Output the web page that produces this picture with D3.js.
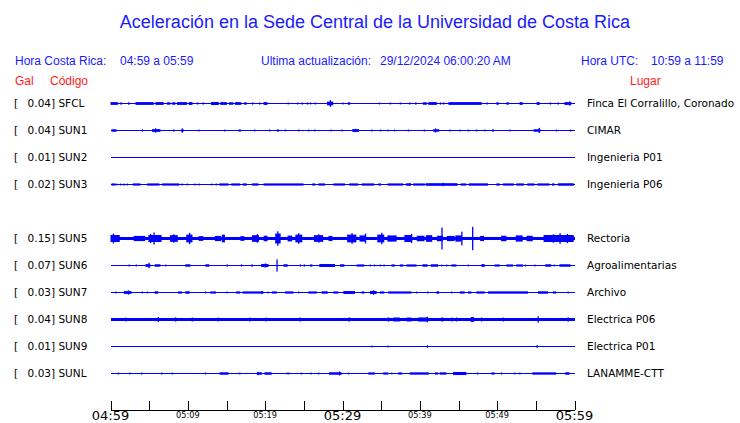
<!DOCTYPE html>
<html><head><meta charset="utf-8">
<script src="https://cdn.jsdelivr.net/npm/d3@7"></script>
<style>
html,body{margin:0;padding:0;background:#fff;}
svg{display:block;}
</style></head>
<body>
<svg id="chart" width="740" height="423"></svg>
<script>
// ---------------- DATA ----------------
const title = "Aceleración en la Sede Central de la Universidad de Costa Rica";
const localLabel = "Hora Costa Rica:", localRange = "04:59 a 05:59";
const updateLabel = "Ultima actualización:", updateValue = "29/12/2024 06:00:20 AM";
const utcLabel = "Hora UTC:", utcRange = "10:59 a 11:59";

const codes  = ["SFCL","SUN1","SUN2","SUN3","SUN5","SUN6","SUN7","SUN8","SUN9","SUNL"];
const slots  = [0,1,2,3,5,6,7,8,9,10];
const gals   = ["0.04","0.04","0.01","0.02","0.15","0.07","0.03","0.04","0.01","0.03"];
const places = ["Finca El Corralillo, Coronado","CIMAR","Ingenieria P01","Ingenieria P06","Rectoria",
                "Agroalimentarias","Archivo","Electrica P06","Electrica P01","LANAMME-CTT"];
// continuous background amplitude (gal) of each trace
const baseAmp = [0,0,0,0,0.02,0,0,0.016,0,0];

const tickMinutes = [0,10,20,30,40,50,60];
const tickLabels  = ["04:59","05:09","05:19","05:29","05:39","05:49","05:59"];
const minorTicks  = [0,5,10,15,20,25,30,35,40,45,50,55,60];

// bursts: [start minute, end minute, amplitude gal]
const evSFCL = [[0,0.95,0.012],[1.29,1.42,0.01],[2.28,2.45,0.01],[3.23,5.59,0.012],[5.81,6.88,0.012],[7.31,7.74,0.01],
 [7.96,8.39,0.01],[8.6,9.89,0.012],[10.1,10.6,0.012],[11.2,11.3,0.008],[11.9,12.0,0.008],[13.0,14.0,0.014],[14.2,15.05,0.012],
 [15.3,15.9,0.01],[16.1,16.9,0.012],[17.3,17.6,0.01],[18.3,18.4,0.008],[19.2,19.3,0.008],[19.8,20.3,0.012],[22.9,23.0,0.006],
 [24.1,24.2,0.006],[24.7,24.8,0.008],[25.4,25.5,0.008],[25.8,25.9,0.006],[26.4,26.5,0.006],[28.0,28.8,0.018],[28.35,28.5,0.038],
 [30.0,30.1,0.006],[30.7,31.0,0.01],[34.7,34.8,0.006],[36.1,36.2,0.006],[37.4,37.5,0.006],[38.6,38.7,0.008],[39.4,39.5,0.008],
 [40.4,40.9,0.01],[41.1,42.2,0.012],[42.6,42.7,0.008],[43.0,43.1,0.008],[43.7,48.0,0.012],[48.6,48.7,0.008],[49.9,50.2,0.01],
 [51.2,51.5,0.01],[52.9,53.3,0.012],[55.1,55.5,0.012],[56.8,56.9,0.008],[57.8,57.9,0.008],[58.7,59.6,0.012],[59.3,59.4,0.022]];
const evSUN1 = [[0.13,0.77,0.01],[4.05,4.15,0.008],[5.38,6.45,0.012],[5.75,5.85,0.022],[8.1,8.2,0.008],[9.16,9.46,0.01],
 [9.2,9.3,0.022],[11.35,11.45,0.006],[14.7,14.8,0.006],[16.56,16.86,0.008],[18.57,18.67,0.006],[20.5,20.6,0.006],[21.5,21.8,0.008],
 [22.53,22.63,0.006],[24.25,24.35,0.006],[25.55,25.65,0.006],[26.32,26.42,0.006],[28.42,28.52,0.006],[29.85,29.95,0.006],
 [31.27,32.13,0.012],[31.55,31.65,0.016],[33.7,33.8,0.006],[34.87,34.97,0.006],[35.78,35.88,0.006],[36.64,36.74,0.006],
 [38.44,38.54,0.006],[40.5,40.6,0.006],[41.72,42.5,0.01],[41.95,42.05,0.02],[43.82,43.92,0.006],[45.1,45.2,0.006],
 [46.2,46.3,0.006],[47.26,47.36,0.006],[48.34,48.44,0.006],[49.33,49.59,0.008],[51.56,51.66,0.006],[54.71,55.61,0.01],
 [55.35,55.45,0.028],[57.58,57.68,0.006],[59.43,59.53,0.006]];
const evSUN2 = [];
const evSUN3 = [[0.13,0.65,0.008],[0.75,0.82,0.006],[1.25,1.32,0.006],[1.68,1.75,0.006],[2.1,2.18,0.006],[2.88,3.87,0.008],
 [4.73,6.32,0.008],[6.67,8.9,0.008],[9.2,9.3,0.006],[9.85,9.93,0.006],[10.84,10.92,0.006],[11.36,11.44,0.006],[13.0,13.08,0.006],
 [13.6,13.68,0.006],[14.06,15.27,0.008],[15.61,16.77,0.008],[17.08,17.63,0.008],[18.28,19.14,0.008],[19.78,24.95,0.008],
 [26.1,26.45,0.008],[26.88,27.74,0.008],[28.82,30.32,0.008],[30.88,32.04,0.008],[32.47,34.11,0.008],[34.62,34.97,0.008],
 [35.83,37.85,0.008],[38.19,38.84,0.009],[38.65,38.75,0.014],[39.14,40.65,0.008],[40.77,44.86,0.011],[42.95,43.05,0.016],
 [45.29,46.02,0.008],[46.32,48.82,0.009],[49.89,50.32,0.008],[50.75,52.17,0.008],[52.47,53.46,0.008],[53.89,54.84,0.008],
 [55.18,56.77,0.008],[57.08,57.42,0.008],[57.85,59.91,0.01]];
const evSUN5 = [[0,1.2,0.04],[0.3,0.4,0.06],[3.0,4.5,0.028],[4.9,6.6,0.04],[5.55,5.7,0.075],[5.1,5.2,0.055],[7.7,8.7,0.038],
 [8.1,8.2,0.05],[9.8,10.6,0.045],[10.15,10.3,0.07],[11.4,12.0,0.025],[13.5,14.3,0.028],[14.4,14.8,0.045],[16.8,17.3,0.025],
 [18.3,19.2,0.038],[18.9,19.0,0.05],[19.8,20.3,0.03],[21.3,22.0,0.06],[21.55,21.7,0.09],[22.9,23.5,0.032],[23.9,24.8,0.045],
 [24.25,24.35,0.065],[26.3,27.5,0.038],[26.85,26.95,0.05],[28.2,28.7,0.028],[30.6,31.8,0.045],[31.15,31.3,0.065],
 [32.2,33.0,0.035],[32.9,33.0,0.06],[34.5,35.4,0.045],[35.0,35.15,0.07],[35.8,37.0,0.035],[38.0,39.0,0.04],[38.85,38.95,0.055],
 [39.6,40.6,0.03],[40.8,41.6,0.038],[42.2,43.0,0.03],[42.78,42.9,0.14],[43.5,44.5,0.028],[44.6,45.4,0.035],[45.35,45.45,0.085],
 [46.75,46.87,0.15],[47.8,48.3,0.028],[50.5,51.2,0.03],[52.4,53.3,0.035],[53.8,54.6,0.03],[56.0,59.9,0.04],[58.05,58.15,0.065],
 [57.2,57.3,0.05],[59.0,59.1,0.055]];
const evSUN6 = [[2.32,2.42,0.006],[3.26,3.36,0.006],[4.52,5.16,0.012],[4.9,5.0,0.03],[5.72,6.45,0.01],[7.05,7.15,0.006],
 [9.68,10.32,0.01],[12.26,12.77,0.01],[15.0,15.1,0.008],[16.85,16.95,0.008],[18.23,18.33,0.01],[19.48,20.43,0.014],
 [19.95,20.05,0.02],[21.45,21.58,0.075],[22.37,22.92,0.01],[24.47,24.57,0.008],[24.98,25.08,0.008],[25.8,26.1,0.008],
 [27.0,29.03,0.013],[29.68,30.24,0.01],[31.83,32.82,0.008],[33.5,33.6,0.006],[34.05,34.15,0.006],[34.8,34.9,0.006],
 [35.3,35.4,0.006],[36.34,36.77,0.008],[37.42,37.85,0.008],[38.28,39.57,0.008],[40.34,40.99,0.01],[41.42,42.37,0.01],
 [42.75,42.85,0.006],[43.4,43.5,0.006],[44.09,44.73,0.008],[46.2,46.3,0.006],[47.96,48.39,0.012],[49.68,50.32,0.008],
 [51.18,52.04,0.008],[52.47,53.33,0.008],[53.58,53.68,0.006],[54.8,54.9,0.006],[56.22,56.99,0.01],[57.28,57.38,0.006],
 [58.06,59.48,0.01]];
const evSUN7 = [[0.6,0.7,0.006],[1.72,2.71,0.012],[2.23,2.33,0.022],[4.04,4.14,0.006],[4.68,4.78,0.006],[5.72,6.15,0.01],
 [8.73,9.25,0.008],[9.68,10.24,0.01],[12.21,12.31,0.006],[12.9,13.63,0.008],[15.0,15.1,0.006],[16.26,16.77,0.008],
 [17.08,19.78,0.008],[19.52,19.62,0.014],[20.29,20.39,0.006],[20.86,21.51,0.008],[22.58,23.66,0.008],[24.25,24.35,0.006],
 [25.59,26.67,0.008],[27.31,28.09,0.01],[28.82,29.46,0.008],[30.11,31.61,0.013],[32.47,32.82,0.008],[33.55,34.41,0.014],
 [33.93,34.03,0.022],[34.84,35.4,0.008],[35.91,38.92,0.008],[39.52,39.62,0.006],[40.94,41.04,0.006],[42.15,42.49,0.01],
 [44.04,44.14,0.006],[45.16,45.81,0.008],[46.24,46.67,0.008],[47.31,48.39,0.008],[48.82,53.98,0.009],[55.27,56.56,0.01],
 [57.2,57.63,0.008],[59.09,59.19,0.006]];
const evSUN8 = [[1.9,2.0,0.02],[6.1,6.2,0.026],[8.34,8.44,0.022],[10.5,10.6,0.02],[13.84,13.94,0.02],[17.93,18.03,0.02],
 [20.04,20.14,0.02],[24.47,24.57,0.02],[30.79,30.89,0.022],[35.86,35.96,0.022],[36.56,37.42,0.02],[38.28,38.92,0.02],
 [39.78,41.08,0.021],[40.9,41.0,0.03],[42.8,43.0,0.022],[44.04,44.14,0.02],[44.68,44.78,0.02],[46.58,47.01,0.026],
 [47.91,48.01,0.02],[50.7,50.8,0.02],[55.22,55.32,0.035],[59.09,59.19,0.022]];
const evSUN9 = [[33.71,33.81,0.006],[35.78,35.88,0.006],[40.9,41.0,0.01],[55.08,55.28,0.01]];
const evSUNL = [[0.94,1.04,0.006],[2.4,2.5,0.006],[3.95,4.05,0.006],[6.53,6.63,0.006],[7.91,8.01,0.006],[12.21,12.31,0.006],
 [14.11,15.27,0.01],[16.64,16.74,0.006],[18.92,19.57,0.01],[19.0,19.1,0.016],[19.91,20.86,0.01],[22.75,22.85,0.006],
 [22.96,23.06,0.006],[24.6,24.7,0.006],[25.84,25.94,0.006],[26.83,26.93,0.006],[28.26,29.89,0.01],[29.54,29.64,0.02],
 [30.7,30.8,0.006],[33.33,34.19,0.008],[35.27,35.91,0.008],[36.29,36.39,0.006],[37.2,37.72,0.008],[38.71,41.16,0.009],
 [41.94,42.37,0.008],[42.58,43.44,0.009],[44.3,46.02,0.014],[47.39,47.49,0.006],[49.25,49.68,0.008],[50.49,50.59,0.006],
 [52.21,52.31,0.006],[52.85,52.95,0.006],[54.54,57.63,0.009],[58.8,59.35,0.01]];
const events = [evSFCL,evSUN1,evSUN2,evSUN3,evSUN5,evSUN6,evSUN7,evSUN8,evSUN9,evSUNL];

// ---------------- DRAW ----------------
const blue = "#0000ff", textBlue = "#1a1aff", red = "#ff1a1a";
const svg = d3.select("#chart");
const x = d3.scaleLinear().domain([0,60]).range([110.5,574.5]);
const rowY = d3.scaleLinear().domain([0,10]).range([103.5,373.5]);
const amp = d3.scaleLinear().domain([0,0.15]).range([0.5,11.7]);

svg.append("text").attr("x",375).attr("y",28).attr("text-anchor","middle")
  .attr("font-family","Liberation Sans, Arial, sans-serif").attr("font-size",18).attr("fill",textBlue).text(title);

const hdr = svg.append("g").attr("font-family","Liberation Sans, Arial, sans-serif").attr("font-size",12).attr("fill",textBlue);
hdr.append("text").attr("x",15).attr("y",65).text(localLabel);
hdr.append("text").attr("x",120).attr("y",65).text(localRange);
hdr.append("text").attr("x",261).attr("y",65).text(updateLabel);
hdr.append("text").attr("x",380).attr("y",65).text(updateValue);
hdr.append("text").attr("x",581).attr("y",65).text(utcLabel);
hdr.append("text").attr("x",651).attr("y",65).text(utcRange);
const hdr2 = svg.append("g").attr("font-family","Liberation Sans, Arial, sans-serif").attr("font-size",12).attr("fill",red);
hdr2.append("text").attr("x",15).attr("y",85).text("Gal");
hdr2.append("text").attr("x",50).attr("y",85).text("Código");
hdr2.append("text").attr("x",630).attr("y",85).text("Lugar");

const rows = svg.append("g").selectAll("g").data(codes).join("g")
  .attr("transform",(d,i)=>`translate(0,${rowY(slots[i])})`);

// labels
const lab = rows.append("g").attr("font-family","DejaVu Sans, sans-serif").attr("font-size",10.5).attr("fill","#000");
lab.append("text").attr("x",14).attr("y",3.5).text("[");
lab.append("text").attr("x",51).attr("y",3.5).attr("text-anchor","end").text((d,i)=>gals[i]);
lab.append("text").attr("x",51).attr("y",3.5).text(d=>"] "+d);
lab.append("text").attr("x",587).attr("y",3.5).text((d,i)=>places[i]);

// baseline trace
rows.append("rect").attr("x",x(0)).attr("width",x(60)-x(0))
  .attr("y",(d,i)=>-amp(baseAmp[i])).attr("height",(d,i)=>2*amp(baseAmp[i]))
  .attr("fill",blue).attr("shape-rendering","crispEdges");
// bursts
rows.each(function(d,i){
  d3.select(this).selectAll("rect.ev").data(events[i]).join("rect").attr("class","ev")
    .attr("x",e=>x(e[0])).attr("width",e=>Math.max(1.3,x(e[1])-x(e[0])))
    .attr("y",e=>-amp(e[2])).attr("height",e=>2*amp(e[2]))
    .attr("fill",blue);
});

// time axis
const axisY = 409.5;
const ax = svg.append("g").attr("transform",`translate(0,${axisY})`)
  .call(d3.axisTop(x).tickValues(minorTicks).tickSize(9).tickSizeOuter(0).tickFormat(""));
ax.select(".domain").attr("stroke","#000").attr("shape-rendering","crispEdges");
ax.selectAll(".tick line").attr("stroke","#000").attr("shape-rendering","crispEdges");
svg.append("g").selectAll("text").data(tickMinutes).join("text")
  .attr("x",d=>x(d)).attr("y",(d,i)=> (i%3===0)?420:418)
  .attr("text-anchor","middle").attr("font-family","DejaVu Sans, sans-serif")
  .attr("font-size",(d,i)=> (i%3===0)?13:8.2).attr("fill","#000")
  .text((d,i)=>tickLabels[i]);
</script>
</body></html>
